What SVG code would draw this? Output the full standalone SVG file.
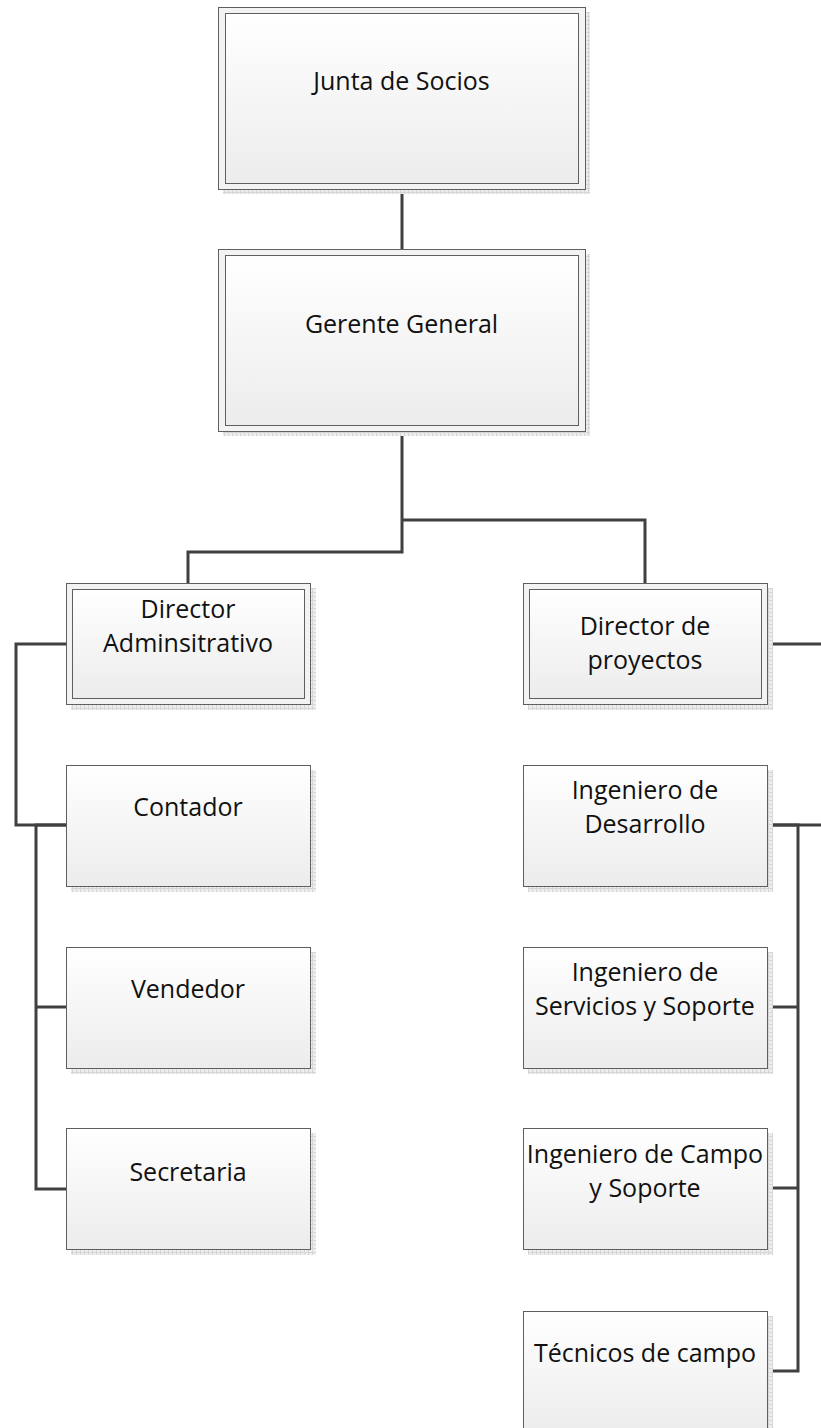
<svg xmlns="http://www.w3.org/2000/svg" width="821" height="1428" viewBox="0 0 821 1428">
<style>
.sh{fill:url(#hatch);}
.box{fill:url(#grad);stroke:#5f5f5f;stroke-width:1;}
.outer{fill:#f3f3f3;stroke:#5f5f5f;stroke-width:1;}
.t{font-family:"Open Sans","Noto Sans",sans-serif;font-size:25px;fill:#111;text-anchor:middle;}
.c{fill:none;stroke:#404040;stroke-width:3;stroke-linejoin:miter;stroke-linecap:butt;}
</style>
<defs>
<linearGradient id="grad" x1="0" y1="0" x2="0" y2="1">
<stop offset="0" stop-color="#ffffff"/>
<stop offset="1" stop-color="#ececec"/>
</linearGradient>
<pattern id="hatch" width="4" height="4" patternUnits="userSpaceOnUse">
<rect width="4" height="4" fill="#ededed"/>
<path d="M0 0.5H4M0.5 0V4" stroke="#d6d6d6" stroke-width="1"/>
</pattern>
</defs>

<g id="connectors">
<path class="c" d="M402 189V249"/>
<path class="c" d="M402 431V552H188V583"/>
<path class="c" d="M402 520H645V583"/>
<path class="c" d="M66 644H16V825H66"/>
<path class="c" d="M66 825H36V1189H66"/>
<path class="c" d="M36 1007H66"/>
<path class="c" d="M767 644H824V825H767"/>
<path class="c" d="M767 825H798V1371H767"/>
<path class="c" d="M767 1007H798"/>
<path class="c" d="M767 1188H798"/>
</g>

<g id="junta">
<rect class="sh" x="223" y="12" width="367" height="182"/>
<rect class="outer" x="218.5" y="7.5" width="367" height="182"/>
<rect class="box" x="225.5" y="13.5" width="353" height="170"/>
<text class="t" x="401.5" y="90">Junta de Socios</text>
</g>

<g id="gerente">
<rect class="sh" x="223" y="254" width="367" height="182"/>
<rect class="outer" x="218.5" y="249.5" width="367" height="182"/>
<rect class="box" x="225.5" y="255.5" width="353" height="170"/>
<text class="t" x="401.5" y="333">Gerente General</text>
</g>

<g id="dir-admin">
<rect class="sh" x="71" y="588" width="245" height="122"/>
<rect class="outer" x="66.5" y="583.5" width="244" height="121"/>
<rect class="box" x="72.5" y="589.5" width="232" height="109"/>
<text class="t" x="188" y="618">Director</text>
<text class="t" x="188" y="652">Adminsitrativo</text>
</g>

<g id="dir-proy">
<rect class="sh" x="528" y="588" width="245" height="122"/>
<rect class="outer" x="523.5" y="583.5" width="244" height="121"/>
<rect class="box" x="529.5" y="589.5" width="232" height="109"/>
<text class="t" x="645" y="635">Director de</text>
<text class="t" x="645" y="669">proyectos</text>
</g>

<g id="contador">
<rect class="sh" x="71" y="770" width="245" height="122"/>
<rect class="box" x="66.5" y="765.5" width="244" height="121"/>
<text class="t" x="188" y="816">Contador</text>
</g>

<g id="vendedor">
<rect class="sh" x="71" y="952" width="245" height="122"/>
<rect class="box" x="66.5" y="947.5" width="244" height="121"/>
<text class="t" x="188" y="998">Vendedor</text>
</g>

<g id="secretaria">
<rect class="sh" x="71" y="1133" width="245" height="122"/>
<rect class="box" x="66.5" y="1128.5" width="244" height="121"/>
<text class="t" x="188" y="1181">Secretaria</text>
</g>

<g id="ing-desarrollo">
<rect class="sh" x="528" y="770" width="245" height="122"/>
<rect class="box" x="523.5" y="765.5" width="244" height="121"/>
<text class="t" x="645" y="799">Ingeniero de</text>
<text class="t" x="645" y="833">Desarrollo</text>
</g>

<g id="ing-servicios">
<rect class="sh" x="528" y="952" width="245" height="122"/>
<rect class="box" x="523.5" y="947.5" width="244" height="121"/>
<text class="t" x="645" y="981">Ingeniero de</text>
<text class="t" x="645" y="1015">Servicios y Soporte</text>
</g>

<g id="ing-campo">
<rect class="sh" x="528" y="1133" width="245" height="122"/>
<rect class="box" x="523.5" y="1128.5" width="244" height="121"/>
<text class="t" x="645" y="1163">Ingeniero de Campo</text>
<text class="t" x="645" y="1197">y Soporte</text>
</g>

<g id="tecnicos">
<rect class="sh" x="528" y="1316" width="245" height="122"/>
<rect class="box" x="523.5" y="1311.5" width="244" height="121"/>
<text class="t" x="645" y="1362">Técnicos de campo</text>
</g>
</svg>
